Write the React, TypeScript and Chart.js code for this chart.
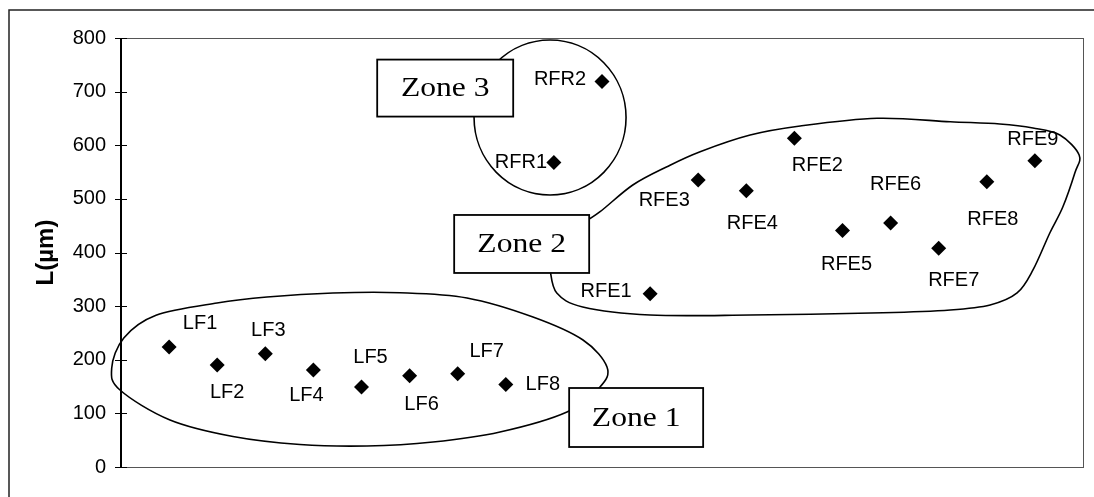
import { useEffect, useRef } from "react";
import { Chart, registerables } from "chart.js";

Chart.register(...registerables);

// ---- data ----
const sampleNames = [
  "LF1", "LF2", "LF3", "LF4", "LF5", "LF6", "LF7", "LF8",
  "RFR1", "RFR2",
  "RFE1", "RFE3", "RFE4", "RFE2", "RFE5", "RFE6", "RFE7", "RFE8", "RFE9",
];
const samplePositions = [1, 2, 3, 4, 5, 6, 7, 8, 9, 10, 11, 12, 13, 14, 15, 16, 17, 18, 19];
const lengthValues = [224, 190, 211, 181, 149, 170, 174, 154, 568, 719, 323, 535, 515, 613, 441, 455, 408, 532, 571];
const yTickValues = [0, 100, 200, 300, 400, 500, 600, 700, 800];

// label offsets from the marker (pixels)
const labelOffsets: [number, number][] = [
  [31, -23], [10, 27], [3, -23], [-7, 26], [9, -30], [12, 29], [29, -22], [37, 0],
  [-33, 0], [-42, -2],
  [-44, -2], [-34, 20], [6, 33], [23, 27], [4, 34], [5, -39], [15, 32], [6, 38], [-2, -21],
];

// zone outlines in data units (x = sample slot, y = µm)
const zone1Outline: [number, number][] = [
  [-0.193, 184.6], [0.058, 240.6], [0.728, 282.9], [1.996, 305.8], [3.035, 317.0],
  [4.407, 324.5], [5.8, 325.0], [7.193, 315.2], [8.565, 279.7], [9.605, 236.8],
  [10.104, 186.5], [9.958, 149.2], [9.272, 102.6], [7.879, 65.3], [6.486, 46.6],
  [5.114, 39.2], [3.721, 42.0], [2.328, 56.9], [1.019, 87.7], [-0.021, 143.6],
];
const zone2Outline: [number, number][] = [
  [9.54, 451.3], [9.96, 476.1], [10.64, 525.9], [11.35, 560.0], [12.04, 588.0],
  [13.08, 619.1], [14.12, 635.9], [15.72, 650.3], [17.24, 643.9], [18.27, 639.6],
  [18.96, 632.2], [19.52, 619.1], [19.92, 581.8], [19.83, 548.3], [19.58, 484.8],
  [19.31, 436.4], [18.96, 367.4], [18.63, 324.5], [18.07, 302.1], [17.24, 292.8],
  [15.84, 287.7], [13.08, 283.4], [11.0, 283.4], [9.6, 298.4], [9.06, 324.5], [8.92, 367.4],
];
const zone3Center: [number, number] = [8.92, 651.7];
const zone3Radii: [number, number] = [1.58, 144.5];

const zoneNames = ["Zone 1", "Zone 2", "Zone 3"];
const zoneAnchors: [number, number][] = [[10.71, 92.3], [8.33, 415.9], [6.74, 706.6]];
const zoneBoxSizes: [number, number][] = [[134, 59], [135, 58], [136, 57]];

const SANS = "'Liberation Sans', Arial, sans-serif";
const SERIF = "'Liberation Serif', 'Times New Roman', serif";

function splinePath(ctx: CanvasRenderingContext2D, pts: [number, number][], closed: boolean) {
  const n = pts.length;
  const get = (i: number) => {
    if (closed) return pts[(i + n) % n];
    return pts[Math.max(0, Math.min(n - 1, i))];
  };
  ctx.moveTo(pts[0][0], pts[0][1]);
  const segs = closed ? n : n - 1;
  for (let i = 0; i < segs; i++) {
    const p0 = get(i - 1), p1 = get(i), p2 = get(i + 1), p3 = get(i + 2);
    const c1x = p1[0] + (p2[0] - p0[0]) / 6;
    const c1y = p1[1] + (p2[1] - p0[1]) / 6;
    const c2x = p2[0] - (p3[0] - p1[0]) / 6;
    const c2y = p2[1] - (p3[1] - p1[1]) / 6;
    ctx.bezierCurveTo(c1x, c1y, c2x, c2y, p2[0], p2[1]);
  }
  if (closed) ctx.closePath();
}

const decorPlugin = {
  id: "decor",
  beforeDraw(chart: any) {
    const ctx: CanvasRenderingContext2D = chart.ctx;
    const a = chart.chartArea;
    const ys = chart.scales.y;
    ctx.save();
    ctx.fillStyle = "#ffffff";
    ctx.fillRect(0, 0, chart.width, chart.height);
    // outer frame
    ctx.strokeStyle = "#222";
    ctx.lineWidth = 1.5;
    ctx.beginPath();
    ctx.moveTo(9, chart.height);
    ctx.lineTo(9, 10);
    ctx.lineTo(chart.width, 10);
    ctx.stroke();
    // plot area border
    ctx.strokeStyle = "#555";
    ctx.lineWidth = 1;
    ctx.strokeRect(a.left + 0.5, a.top + 0.5, a.right - a.left, a.bottom - a.top);
    // y axis line
    ctx.strokeStyle = "#000";
    ctx.lineWidth = 2;
    ctx.beginPath();
    ctx.moveTo(a.left, a.top);
    ctx.lineTo(a.left, a.bottom);
    ctx.stroke();
    // cross ticks
    ctx.lineWidth = 1;
    yTickValues.forEach((v) => {
      const y = Math.round(ys.getPixelForValue(v)) + 0.5;
      ctx.beginPath();
      ctx.moveTo(a.left - 6, y);
      ctx.lineTo(a.left + 6, y);
      ctx.stroke();
    });
    ctx.restore();
  },
  beforeDatasetsDraw(chart: any) {
    const ctx: CanvasRenderingContext2D = chart.ctx;
    const xs = chart.scales.x;
    const ys = chart.scales.y;
    const toPx = (p: [number, number]): [number, number] => [xs.getPixelForValue(p[0]), ys.getPixelForValue(p[1])];
    ctx.save();
    ctx.strokeStyle = "#000";
    ctx.lineWidth = 1.6;
    // zone 1
    ctx.beginPath();
    splinePath(ctx, zone1Outline.map(toPx), true);
    ctx.stroke();
    // zone 2
    ctx.beginPath();
    splinePath(ctx, zone2Outline.map(toPx), false);
    ctx.stroke();
    // zone 3
    const c = toPx(zone3Center);
    const rx = Math.abs(xs.getPixelForValue(zone3Center[0] + zone3Radii[0]) - c[0]);
    const ry = Math.abs(ys.getPixelForValue(zone3Center[1] + zone3Radii[1]) - c[1]);
    ctx.beginPath();
    ctx.ellipse(c[0], c[1], rx, ry, 0, 0, Math.PI * 2);
    ctx.stroke();
    // zone label boxes
    zoneNames.forEach((name, i) => {
      const [cx, cy] = toPx(zoneAnchors[i]);
      const [w, h] = zoneBoxSizes[i];
      ctx.fillStyle = "#fff";
      ctx.fillRect(cx - w / 2, cy - h / 2, w, h);
      ctx.lineWidth = 1.8;
      ctx.strokeStyle = "#000";
      ctx.strokeRect(cx - w / 2, cy - h / 2, w, h);
      ctx.save();
      ctx.translate(cx, cy + 1);
      ctx.scale(1.17, 1);
      ctx.fillStyle = "#000";
      ctx.font = `27px ${SERIF}`;
      ctx.textAlign = "center";
      ctx.textBaseline = "middle";
      ctx.fillText(name, 0, 0);
      ctx.restore();
    });
    ctx.restore();
  },
  afterDatasetsDraw(chart: any) {
    const ctx: CanvasRenderingContext2D = chart.ctx;
    const meta = chart.getDatasetMeta(0);
    ctx.save();
    ctx.fillStyle = "#000";
    ctx.font = `20px ${SANS}`;
    ctx.textAlign = "center";
    ctx.textBaseline = "middle";
    meta.data.forEach((el: any, i: number) => {
      const [dx, dy] = labelOffsets[i];
      ctx.fillText(sampleNames[i], el.x + dx, el.y + dy);
    });
    ctx.restore();
  },
};

export default function App() {
  const canvasRef = useRef<HTMLCanvasElement | null>(null);

  useEffect(() => {
    if (!canvasRef.current) return;
    Chart.defaults.font.family = SANS;
    const chart = new Chart(canvasRef.current, {
      type: "scatter",
      data: {
        datasets: [
          {
            label: "L",
            data: samplePositions.map((x, i) => ({ x, y: lengthValues[i] })),
            pointStyle: "rectRot",
            pointRadius: 7.5,
            pointHoverRadius: 7.5,
            backgroundColor: "#000",
            borderColor: "#000",
            borderWidth: 0,
            showLine: false,
          },
        ],
      },
      options: {
        responsive: false,
        animation: false,
        events: [],
        layout: { padding: { top: 38, right: 11, bottom: 30, left: 0 } },
        plugins: {
          legend: { display: false },
          tooltip: { enabled: false },
          title: { display: false },
        },
        scales: {
          x: {
            type: "linear",
            min: 0,
            max: 20,
            display: false,
          },
          y: {
            type: "linear",
            min: 0,
            max: 800,
            grid: { display: false, drawTicks: false },
            border: { display: false },
            ticks: {
              stepSize: 100,
              padding: 15,
              color: "#000",
              font: { size: 20, family: SANS },
            },
            title: {
              display: true,
              text: "L(\u00b5m)",
              color: "#000",
              font: { size: 24, weight: "bold", family: SANS },
              padding: { top: 32, bottom: 0 },
            },
            afterFit: (scale: any) => {
              scale.width = 121;
            },
          },
        },
      },
      plugins: [decorPlugin],
    } as any);
    return () => chart.destroy();
  }, []);

  return (
    <div style={{ position: "fixed", left: 0, top: 0, width: 1094, height: 497, background: "#fff" }}>
      <canvas ref={canvasRef} width={1094} height={497} style={{ display: "block" }} />
    </div>
  );
}
